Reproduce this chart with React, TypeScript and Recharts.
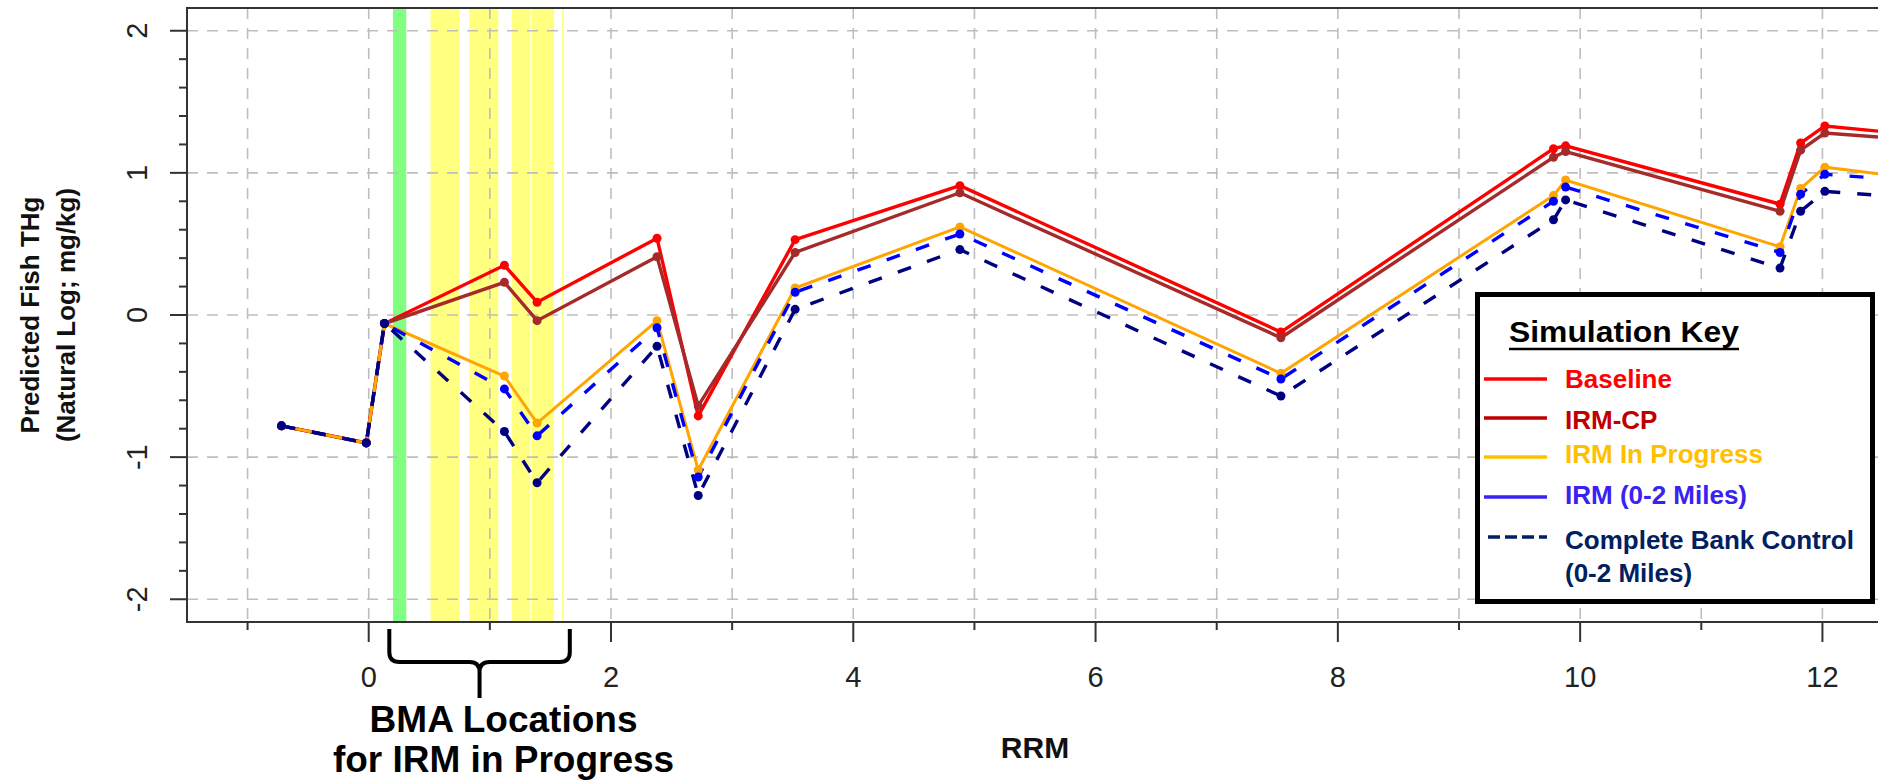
import React from 'react';
import {
  LineChart,
  Line,
  XAxis,
  YAxis,
  CartesianGrid,
  ReferenceArea,
  Legend,
} from 'recharts';

// river mile of each model reach (shared by every simulation)
const rrm = [-0.72, -0.02, 0.13, 1.12, 1.39, 2.38, 2.72, 3.52, 4.88, 7.53, 9.78, 9.88, 11.65, 11.82, 12.02, 12.5];

const baseline = [-0.78, -0.9, -0.06, 0.35, 0.09, 0.54, -0.71, 0.53, 0.91, -0.12, 1.17, 1.19, 0.78, 1.21, 1.33, 1.29];
const irmCp = [-0.78, -0.9, -0.06, 0.23, -0.04, 0.41, -0.64, 0.44, 0.86, -0.16, 1.11, 1.15, 0.73, 1.16, 1.28, 1.25];
const irmInProgress = [-0.78, -0.9, -0.06, -0.43, -0.76, -0.04, -1.09, 0.19, 0.62, -0.41, 0.84, 0.95, 0.48, 0.89, 1.04, 0.99];
const irm02 = [-0.78, -0.9, -0.06, -0.52, -0.85, -0.09, -1.14, 0.16, 0.57, -0.45, 0.8, 0.9, 0.44, 0.85, 0.99, 0.96];
const bankControl = [-0.78, -0.9, -0.06, -0.82, -1.18, -0.22, -1.27, 0.04, 0.46, -0.57, 0.67, 0.81, 0.33, 0.73, 0.87, 0.84];

const xTicks = [-1, 0, 1, 2, 3, 4, 5, 6, 7, 8, 9, 10, 11, 12];
const yTicks = [-2, -1.8, -1.6, -1.4, -1.2, -1, -0.8, -0.6, -0.4, -0.2, 0, 0.2, 0.4, 0.6, 0.8, 1, 1.2, 1.4, 1.6, 1.8, 2];
const yGrid = [-2, -1, 0, 1, 2];

// BMA locations (RRM)
const greenBand = [0.2, 0.31];
const yellowBands = [
  [0.51, 0.75],
  [0.83, 1.07],
  [1.18, 1.335],
  [1.345, 1.53],
  [1.595, 1.61],
];
const bracketSpan = [0.17, 1.66];

const legendLabels = ['Baseline', 'IRM-CP', 'IRM In Progress', 'IRM (0-2 Miles)', 'Complete Bank Control', '(0-2 Miles)'];

const rows = rrm.map((x, i) => ({
  rrm: x,
  baseline: baseline[i],
  irmCp: irmCp[i],
  irmInProgress: irmInProgress[i],
  irm02: irm02[i],
  bankControl: bankControl[i],
}));

const FONT = '"Liberation Sans", Arial, sans-serif';
const DASH = '14 17';
const LW = 3.4;

function XTick(props: any) {
  const { x, y, payload } = props;
  const v = payload.value;
  const major = v % 2 === 0;
  return (
    <g>
      <line x1={x} x2={x} y1={y} y2={y + (major ? 20 : 8)} stroke="#333" strokeWidth={2} />
      {major && (
        <text x={x} y={y + 65} textAnchor="middle" fontSize={29} fill="#222">
          {v}
        </text>
      )}
    </g>
  );
}

function YTick(props: any) {
  const { x, y, payload } = props;
  const v = payload.value;
  const major = Math.abs(v - Math.round(v)) < 1e-6;
  const lx = x - 40;
  return (
    <g>
      <line x1={x - (major ? 17 : 8)} x2={x} y1={y} y2={y} stroke="#333" strokeWidth={2} />
      {major && (
        <text
          x={lx}
          y={y}
          transform={`rotate(-90 ${lx} ${y})`}
          textAnchor="middle"
          fontSize={29}
          fill="#222"
        >
          {String(Math.round(v))}
        </text>
      )}
    </g>
  );
}

function YTitle(props: any) {
  const { viewBox } = props;
  const right = viewBox.x + viewBox.width;
  const cy = viewBox.y + viewBox.height / 2;
  const x1 = right - 157;
  const x2 = right - 121;
  return (
    <g fontWeight="bold" fontSize={26} fill="#111">
      <text x={x1} y={cy} transform={`rotate(-90 ${x1} ${cy})`} textAnchor="middle" dominantBaseline="central">
        Predicted Fish THg
      </text>
      <text x={x2} y={cy} transform={`rotate(-90 ${x2} ${cy})`} textAnchor="middle" dominantBaseline="central">
        (Natural Log; mg/kg)
      </text>
    </g>
  );
}

function XTitle(props: any) {
  const { viewBox } = props;
  return (
    <text
      x={viewBox.x + viewBox.width / 2}
      y={viewBox.y + 136}
      textAnchor="middle"
      fontSize={30}
      fontWeight="bold"
      fill="#111"
    >
      RRM
    </text>
  );
}

function BmaBracket(props: any) {
  const { x, y, width, height } = props;
  const left = x;
  const right = x + width;
  const cx = x + width / 2;
  const base = y + height;
  const top = base + 7;
  const h = base + 40;
  const tip = base + 76;
  const r = 10;
  const d =
    `M${left},${top} L${left},${h - r} Q${left},${h} ${left + r},${h} L${cx - r},${h} Q${cx},${h} ${cx},${h + r} L${cx},${tip} ` +
    `M${cx},${h + r} Q${cx},${h} ${cx + r},${h} L${right - r},${h} Q${right},${h} ${right},${h - r} L${right},${top}`;
  return (
    <g>
      <path d={d} fill="none" stroke="#000" strokeWidth={4} />
      <text x={cx + 24} y={base + 110} textAnchor="middle" fontSize={37} fontWeight="bold" fill="#000">
        BMA Locations
      </text>
      <text x={cx + 24} y={base + 150} textAnchor="middle" fontSize={37} fontWeight="bold" fill="#000">
        for IRM in Progress
      </text>
    </g>
  );
}

function SimulationKey() {
  const lineY = [87, 126, 165, 205, 245];
  const textY = [96, 137, 171, 212, 257, 290];
  const colors = ['#FF0000', '#C00000', '#FFC000', '#3A22F0', '#002060', '#002060'];
  return (
    <svg width={400} height={312} style={{ display: 'block' }}>
      <rect x={2.5} y={2.5} width={395} height={307} fill="#fff" stroke="#000" strokeWidth={5} />
      <text x={34} y={50} fontSize={30} fontWeight="bold" fill="#000" textLength={230} lengthAdjust="spacingAndGlyphs">
        Simulation Key
      </text>
      <line x1={34} x2={264} y1={57} y2={57} stroke="#000" strokeWidth={2.5} />
      {lineY.map((ly, i) => (
        <line
          key={i}
          x1={i === 4 ? 13 : 9}
          x2={72}
          y1={ly}
          y2={ly}
          stroke={colors[i]}
          strokeWidth={3.5}
          strokeDasharray={i === 4 ? '12 5' : undefined}
        />
      ))}
      {legendLabels.map((label, i) => (
        <text key={label + i} x={90} y={textY[i]} fontSize={26} fontWeight="bold" fill={colors[i]}>
          {label}
        </text>
      ))}
    </svg>
  );
}

export default function App() {
  const dot = (color: string) => ({ r: 4.5, fill: color, stroke: color, strokeWidth: 0 });
  return (
    <div
      style={{
        position: 'absolute',
        left: 0,
        top: 0,
        width: 1878,
        height: 784,
        overflow: 'hidden',
        background: '#fff',
        fontFamily: FONT,
      }}
    >
      <LineChart width={1890} height={784} data={rows} margin={{ top: 8, right: 7, bottom: 102, left: 127 }}>
        {[greenBand, ...yellowBands].map((b, i) => (
          <ReferenceArea
            key={'band' + i}
            x1={b[0]}
            x2={b[1]}
            fill={i === 0 ? '#80FF80' : '#FFFF80'}
            fillOpacity={1}
            stroke="none"
            zIndex={50}
          />
        ))}
        <CartesianGrid
          stroke="#BEBEBE"
          strokeWidth={1.6}
          strokeDasharray="11 9"
          horizontalValues={yGrid}
          verticalValues={xTicks}
          zIndex={150}
        />
        <XAxis
          dataKey="rrm"
          type="number"
          domain={[-1.5, 12.5]}
          allowDataOverflow
          ticks={xTicks}
          interval={0}
          tick={XTick}
          tickLine={false}
          tickSize={0}
          tickMargin={0}
          axisLine={false}
          height={60}
          label={XTitle}
        />
        <YAxis
          type="number"
          domain={[-2.16, 2.16]}
          allowDataOverflow
          ticks={yTicks}
          interval={0}
          tick={YTick}
          tickLine={false}
          tickSize={0}
          tickMargin={0}
          axisLine={false}
          width={60}
          label={YTitle}
        />
        <Line dataKey="baseline" stroke="#FF0000" strokeWidth={LW} dot={dot('#FF0000')} isAnimationActive={false} />
        <Line dataKey="irmCp" stroke="#A52A2A" strokeWidth={LW} dot={dot('#A52A2A')} isAnimationActive={false} />
        <Line dataKey="irmInProgress" stroke="#FFA500" strokeWidth={3} dot={dot('#FFA500')} isAnimationActive={false} />
        <Line
          dataKey="irm02"
          stroke="#0000FF"
          strokeWidth={LW}
          strokeDasharray={DASH}
          dot={dot('#0000FF')}
          isAnimationActive={false}
        />
        <Line
          dataKey="bankControl"
          stroke="#000080"
          strokeWidth={LW}
          strokeDasharray={DASH}
          dot={dot('#000080')}
          isAnimationActive={false}
        />
        <ReferenceArea
          x1={-1.5}
          x2={12.5}
          fill="none"
          stroke="#333"
          strokeWidth={2}
          zIndex={450}
        />
        <ReferenceArea
          x1={bracketSpan[0]}
          x2={bracketSpan[1]}
          ifOverflow="visible"
          shape={BmaBracket}
          zIndex={600}
        />
        <Legend
          layout="horizontal"
          verticalAlign="middle"
          content={SimulationKey}
          wrapperStyle={{ position: 'absolute', left: 1475, top: 292, width: 400, height: 312 }}
        />
      </LineChart>
    </div>
  );
}
